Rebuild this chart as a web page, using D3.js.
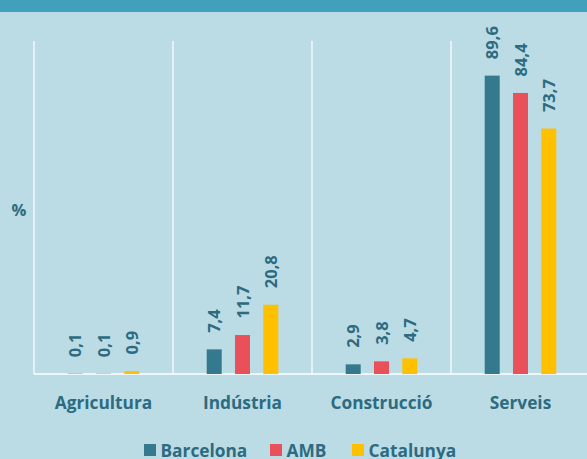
<!DOCTYPE html>
<html><head><meta charset="utf-8">
<script src="https://cdn.jsdelivr.net/npm/d3@7"></script>
<style>html,body{margin:0;padding:0;background:#bbdbe5;overflow:hidden}</style>
</head><body>
<script>
const categories = ["Agricultura", "Indústria", "Construcció", "Serveis"];
const seriesNames = ["Barcelona", "AMB", "Catalunya"];
const barcelona = [0.1, 7.4, 2.9, 89.6];
const amb = [0.1, 11.7, 3.8, 84.4];
const catalunya = [0.9, 20.8, 4.7, 73.7];
const colors = ["#35798f", "#e9505a", "#ffc000"];
const textColor = "#2d6b80";
const FONT = "'Open Sans', sans-serif";

const W = 587, H = 459;
const svg = d3.select("body").append("svg").attr("width", W).attr("height", H);
svg.append("rect").attr("width", W).attr("height", H).attr("fill", "#bbdbe5");

const plotLeft = 34, bandW = 139, plotTop = 41, base = 374;
const x = d3.scaleBand().domain(categories).range([plotLeft, plotLeft + bandW * 4]).paddingInner(0).paddingOuter(0);
const xs = d3.scaleBand().domain(seriesNames).range([-35.8, 35.8]).paddingInner(0.47).paddingOuter(0);
const y = d3.scaleLinear().domain([0, 100]).range([base, plotTop]);

const g = svg.append("g");
g.selectAll("line.v").data(categories).join("line")
  .attr("x1", d => x(d)).attr("x2", d => x(d))
  .attr("y1", plotTop).attr("y2", base)
  .attr("stroke", "#ffffff").attr("stroke-width", 1.2);
g.append("line").attr("x1", plotLeft).attr("x2", plotLeft + bandW * 4).attr("y1", base).attr("y2", base)
  .attr("stroke", "#ffffff").attr("stroke-width", 1.5);

const data = [barcelona, amb, catalunya];
const fmt = v => String(v).replace(".", ",");
seriesNames.forEach((s, si) => {
  const vals = data[si];
  const cx = c => x(c) + x.bandwidth() / 2 + xs(s) + xs.bandwidth() / 2;
  svg.append("g").selectAll("rect").data(categories).join("rect")
    .attr("x", c => cx(c) - xs.bandwidth() / 2)
    .attr("width", xs.bandwidth())
    .attr("y", (c, i) => y(vals[i]))
    .attr("height", (c, i) => base - y(vals[i]))
    .attr("fill", colors[si]);
  svg.append("g").selectAll("text").data(categories).join("text")
    .attr("transform", (c, i) => `translate(${cx(c) + 6},${y(vals[i]) - 16.5}) rotate(-90)`)
    .attr("text-anchor", "start")
    .attr("font-family", FONT)
    .attr("font-weight", 700).attr("font-size", 16.5)
    .attr("fill", textColor)
    .text((c, i) => fmt(vals[i]));
});

// title bar (drawn over the top of the plot)
svg.append("rect").attr("width", W).attr("height", 12).attr("fill", "#42a0bd");

svg.append("g").selectAll("text").data(categories).join("text")
  .attr("x", c => x(c) + x.bandwidth() / 2)
  .attr("y", 408.5)
  .attr("text-anchor", "middle")
  .attr("font-family", FONT)
  .attr("font-weight", 700).attr("font-size", 17.3)
  .attr("fill", textColor)
  .text(c => c);

svg.append("text").attr("x", 19).attr("y", 215.5).attr("text-anchor", "middle")
  .attr("font-family", FONT).attr("font-weight", 700).attr("font-size", 16.5)
  .attr("fill", textColor).text("%");

const legX = [144, 270, 352];
const lg = svg.append("g");
seriesNames.forEach((s, i) => {
  lg.append("rect").attr("x", legX[i]).attr("y", 444).attr("width", 12).attr("height", 12).attr("fill", colors[i]);
  lg.append("text").attr("x", legX[i] + 16.5).attr("y", 457)
    .attr("font-family", FONT).attr("font-weight", 700).attr("font-size", 17.3)
    .attr("fill", textColor).text(s);
});
</script>
</body></html>
